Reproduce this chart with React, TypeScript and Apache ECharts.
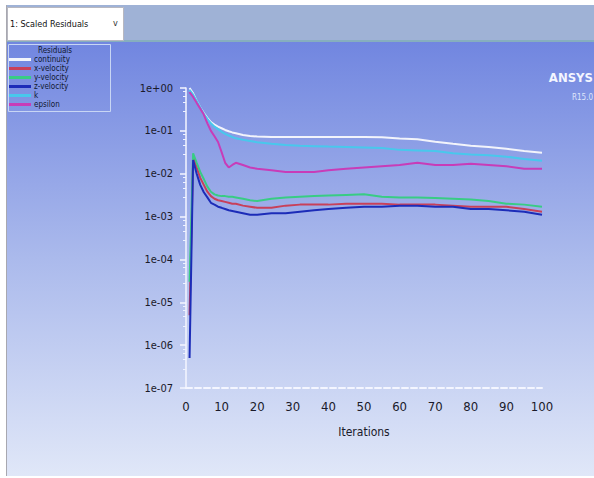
import React, { useEffect, useRef } from "react";
import * as echarts from "echarts";

const FONT = "'Liberation Sans Narrow', 'DejaVu Sans Condensed', 'Arial Narrow', sans-serif";

const seriesNames = ["continuity", "x-velocity", "y-velocity", "z-velocity", "k", "epsilon"];
const seriesColors = ["#f2f4fb", "#c8405a", "#38cc84", "#1c2cb8", "#48c8ec", "#c83cb8"];

const iterations = [1, 2, 3, 4, 5, 6, 7, 8, 9, 10, 11, 12, 13, 14, 16, 18, 20, 24, 28, 32, 36, 40, 45, 50, 55, 60, 65, 70, 75, 80, 85, 90, 95, 100];

const continuity = [1.0, 0.75, 0.5, 0.35, 0.26, 0.2, 0.16, 0.14, 0.125, 0.115, 0.105, 0.098, 0.092, 0.088, 0.08, 0.076, 0.074, 0.072, 0.072, 0.072, 0.072, 0.072, 0.072, 0.072, 0.071, 0.066, 0.064, 0.056, 0.05, 0.045, 0.042, 0.038, 0.034, 0.031];
const xVelocity = [5e-6, 0.024, 0.014, 0.008, 0.0055, 0.0038, 0.003, 0.0026, 0.0024, 0.0023, 0.0022, 0.0021, 0.002, 0.002, 0.0018, 0.0017, 0.0016, 0.0016, 0.0018, 0.0019, 0.0019, 0.0019, 0.002, 0.002, 0.002, 0.0019, 0.0019, 0.0019, 0.0018, 0.0017, 0.0017, 0.0017, 0.0015, 0.0013];
const yVelocity = [3e-5, 0.03, 0.018, 0.011, 0.0075, 0.005, 0.0038, 0.0033, 0.0031, 0.003, 0.003, 0.0029, 0.0029, 0.0028, 0.0026, 0.0024, 0.0023, 0.0026, 0.0028, 0.0029, 0.003, 0.0031, 0.0032, 0.0033, 0.0029, 0.0028, 0.0028, 0.0027, 0.0026, 0.0025, 0.0023, 0.002, 0.0019, 0.0017];
const zVelocity = [5e-7, 0.021, 0.01, 0.0055, 0.0037, 0.0028, 0.0021, 0.0019, 0.0017, 0.0016, 0.0015, 0.0014, 0.00135, 0.0013, 0.0012, 0.0011, 0.0011, 0.0012, 0.0012, 0.0013, 0.0014, 0.0015, 0.0016, 0.0017, 0.0017, 0.0018, 0.0018, 0.0017, 0.0017, 0.0015, 0.0015, 0.0014, 0.0013, 0.0011];
const kValues = [0.9, 0.7, 0.5, 0.35, 0.25, 0.19, 0.15, 0.125, 0.11, 0.095, 0.085, 0.078, 0.072, 0.067, 0.062, 0.058, 0.054, 0.05, 0.047, 0.045, 0.044, 0.043, 0.042, 0.041, 0.04, 0.036, 0.035, 0.034, 0.03, 0.028, 0.027, 0.025, 0.022, 0.02];
const epsilon = [0.8, 0.62, 0.45, 0.33, 0.24, 0.15, 0.1, 0.075, 0.055, 0.032, 0.018, 0.014, 0.016, 0.018, 0.016, 0.014, 0.013, 0.012, 0.011, 0.011, 0.011, 0.012, 0.013, 0.014, 0.015, 0.016, 0.018, 0.016, 0.016, 0.017, 0.016, 0.015, 0.013, 0.013];

const seriesValues = [continuity, xVelocity, yVelocity, zVelocity, kValues, epsilon];

const yTickLabels = ["1e-07", "1e-06", "1e-05", "1e-04", "1e-03", "1e-02", "1e-01", "1e+00"];
const xTickLabels = ["0", "10", "20", "30", "40", "50", "60", "70", "80", "90", "100"];

export default function App() {
  const ref = useRef<HTMLDivElement>(null);
  useEffect(() => {
    if (!ref.current) return;
    const chart = echarts.init(ref.current, null, { renderer: "svg" });
    const option = {
      animation: false,
      backgroundColor: "#ffffff",
      graphic: [
        { type: "rect", z: -10, shape: { x: 7, y: 5, width: 587, height: 38 }, style: { fill: "#9fb2d6" } },
        { type: "rect", z: -10, shape: { x: 7, y: 40, width: 587, height: 2 }, style: { fill: "#86aebe" } },
        {
          type: "rect", z: -10, shape: { x: 7, y: 42, width: 587, height: 434 },
          style: {
            fill: new echarts.graphic.LinearGradient(0, 0, 0, 1, [
              { offset: 0, color: "#7186e0" },
              { offset: 0.5, color: "#abbaec" },
              { offset: 1, color: "#e0e7f8" },
            ]),
          },
        },
        { type: "rect", z: -9, shape: { x: 6, y: 5, width: 1, height: 471 }, style: { fill: "#a8a8b0" } },
        { type: "rect", z: -8, shape: { x: 7.5, y: 7.5, width: 116, height: 33 }, style: { fill: "#ffffff", stroke: "#b8b8c0", lineWidth: 1 } },
        { type: "text", z: -7, x: 10, y: 24, style: { text: "1: Scaled Residuals", fill: "#111111", font: `9px ${FONT}`, verticalAlign: "middle" } },
        { type: "text", z: -7, x: 113, y: 23, style: { text: "v", fill: "#333333", font: `9px ${FONT}`, verticalAlign: "middle" } },
        { type: "rect", z: -8, shape: { x: 8.5, y: 44.5, width: 102, height: 67 }, style: { fill: "rgba(0,0,0,0)", stroke: "#c8d6f4", lineWidth: 1 } },
        { type: "text", z: -7, x: 38, y: 50, style: { text: "Residuals", fill: "#101830", font: `8px ${FONT}`, verticalAlign: "middle" } },
        { type: "text", z: -7, x: 593, y: 77, style: { text: "ANSYS", fill: "#f4f6ff", font: `bold 13px ${FONT}`, align: "right", verticalAlign: "middle" } },
        { type: "text", z: -7, x: 593, y: 97, style: { text: "R15.0", fill: "#dfe6fb", font: `8px ${FONT}`, align: "right", verticalAlign: "middle" } },
      ],
      legend: {
        data: seriesNames,
        orient: "vertical",
        left: 9,
        top: 55,
        itemWidth: 22,
        itemHeight: 3,
        itemGap: 0,
        icon: "rect",
        padding: 0,
        selectedMode: false,
        textStyle: { fontSize: 8, lineHeight: 9, height: 9, color: "#101830", fontFamily: FONT, padding: [0, 0, 0, -2] },
      },
      grid: { left: 186, right: 52, top: 88, bottom: 90, containLabel: false },
      xAxis: {
        type: "value",
        min: 0,
        max: 100,
        interval: 10,
        name: "Iterations",
        nameLocation: "middle",
        nameGap: 38,
        nameTextStyle: { fontSize: 12, color: "#1a1a2a", fontFamily: FONT },
        axisLine: { show: true, lineStyle: { color: "#f4f6ff", width: 2, type: [6, 3] } },
        axisTick: { show: false },
        splitLine: { show: false },
        axisLabel: {
          fontSize: 13,
          color: "#1a1a2a",
          fontFamily: FONT,
          margin: 12,
          formatter: (v: number) => xTickLabels[Math.round(v / 10)] ?? String(v),
        },
      },
      yAxis: {
        type: "log",
        logBase: 10,
        min: 1e-7,
        max: 1,
        splitNumber: 7,
        axisLine: { show: true, lineStyle: { color: "#f4f6ff", width: 1.5 } },
        axisTick: { show: true, length: 6, lineStyle: { color: "#f4f6ff", width: 1.5 } },
        minorTick: { show: true, splitNumber: 5, length: 3, lineStyle: { color: "#eef2ff", width: 1 } },
        splitLine: { show: false },
        axisLabel: {
          fontSize: 11,
          color: "#1a1a2a",
          fontFamily: FONT,
          margin: 13,
          formatter: (v: number) => {
            const e = Math.round(Math.log10(v));
            return yTickLabels[e + 7] ?? String(v);
          },
        },
      },
      series: seriesNames.map((name, i) => ({
        name,
        type: "line",
        color: seriesColors[i],
        showSymbol: false,
        symbol: "none",
        lineStyle: { width: 2, color: seriesColors[i] },
        data: iterations.map((it, j) => [it, seriesValues[i][j]]),
      })),
    };
    chart.setOption(option as any);
    return () => chart.dispose();
  }, []);
  return <div ref={ref} style={{ position: "fixed", left: 0, top: 0, width: 594, height: 478 }} />;
}
